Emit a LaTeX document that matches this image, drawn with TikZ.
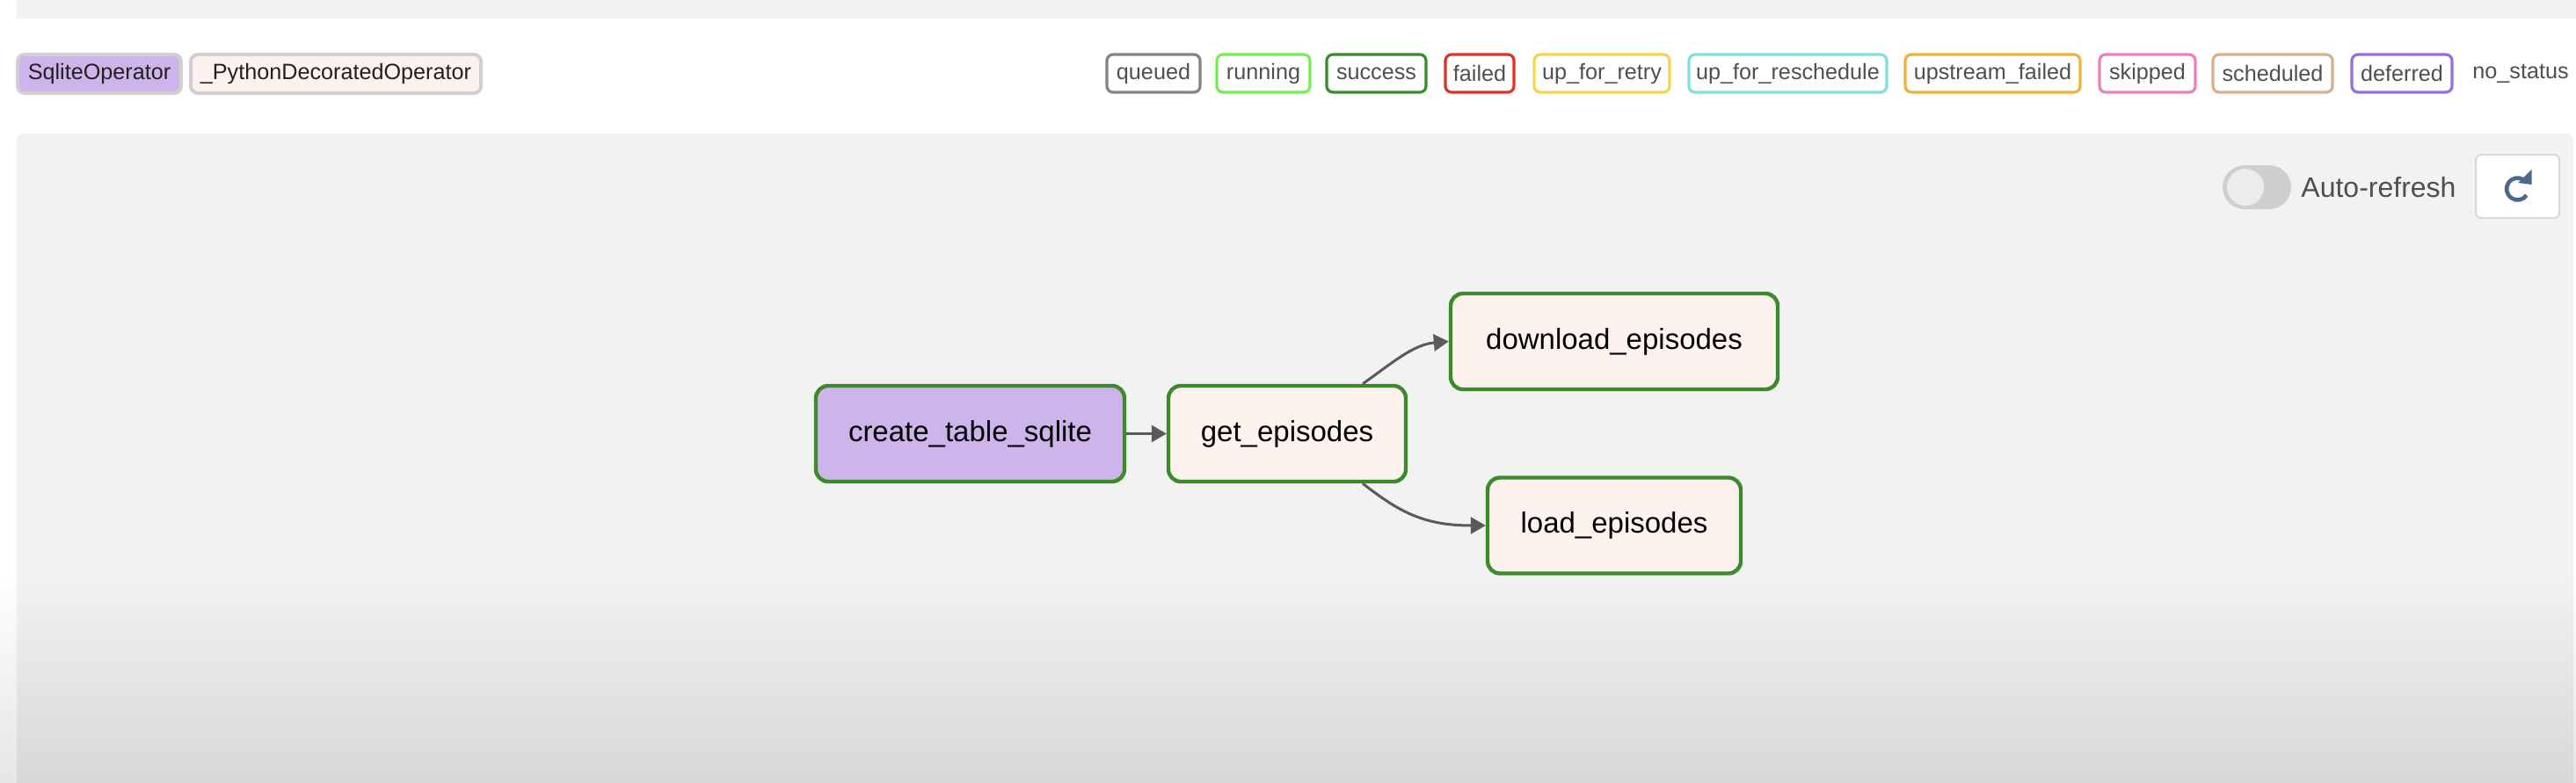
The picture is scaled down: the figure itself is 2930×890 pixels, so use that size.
\documentclass[tikz,border=0pt]{standalone}
\usepackage{fontspec}
\setmainfont{Liberation Sans}
\usetikzlibrary{arrows.meta}
\definecolor{panelbg}{HTML}{F2F2F2}
\definecolor{panelbot}{HTML}{D8D8D8}
\definecolor{stripbot}{HTML}{E6E6E6}
\definecolor{chipgray}{HTML}{D0D0D0}
\definecolor{sqlitefill}{HTML}{CDB4EA}
\definecolor{pyfill}{HTML}{FDF2EE}
\definecolor{okgreen}{HTML}{3B8A2C}
\definecolor{edgegray}{HTML}{5A5A5A}
\definecolor{txtgray}{HTML}{4F4F4F}
\definecolor{cqueued}{HTML}{858585}
\definecolor{crunning}{HTML}{74EE50}
\definecolor{csuccess}{HTML}{3B8A2C}
\definecolor{cfailed}{HTML}{E0302A}
\definecolor{cretry}{HTML}{F5D64A}
\definecolor{cresched}{HTML}{80E0D5}
\definecolor{cupfail}{HTML}{F0B03C}
\definecolor{cskipped}{HTML}{EA80BD}
\definecolor{csched}{HTML}{D2B48C}
\definecolor{cdeferred}{HTML}{9370DB}
\definecolor{togglebg}{HTML}{CFCFCF}
\definecolor{toggleknob}{HTML}{ECECEC}
\definecolor{btnborder}{HTML}{D9D9D9}
\definecolor{iconblue}{HTML}{4B6A8B}
\begin{document}
\begin{tikzpicture}[x=0.5pt,y=-0.5pt,
  legendchip/.style={draw=chipgray, line width=2pt, rounded corners=4pt,
    minimum height=22pt, inner sep=0pt, text=black!87,
    font=\fontsize{12.6}{15}\selectfont},
  statechip/.style={draw=#1, fill=white, line width=1.6pt, rounded corners=3.5pt,
    minimum height=21.5pt, inner sep=0pt, text=txtgray,
    font=\fontsize{12.6}{15}\selectfont},
  taskbox/.style={draw=okgreen, line width=2.2pt, rounded corners=7pt,
    minimum height=54.5pt, inner sep=0pt, text=black,
    font=\fontsize{16.5}{20}\selectfont},
  dagedge/.style={draw=edgegray, line width=1.5pt,
    -{Triangle[length=8.5pt,width=9.5pt]}}
]
\useasboundingbox (0,0) rectangle (2930,890);
% backgrounds
\fill[white] (0,0) rectangle (2930,890);
\fill[panelbg] (19,0) rectangle (2930,21);
\fill[panelbg, rounded corners=4pt] (19,152) rectangle (2927,900);
\shade[top color=white, bottom color=stripbot] (0,650) rectangle (19,890);
\shade[top color=white, bottom color=stripbot] (2927,650) rectangle (2930,890);
\shade[top color=panelbg, bottom color=panelbot] (19,650) rectangle (2927,890);

% operator legend
\node[legendchip, fill=sqlitefill, minimum width=93pt] (lsqlite) at (113,84) {SqliteOperator};
\node[legendchip, fill=pyfill, minimum width=165pt] (lpython) at (382,84) {\_PythonDecoratedOperator};

% state legend
\node[statechip=cqueued, minimum width=53pt] (squeued) at (1312,83.5) {queued};
\node[statechip=crunning, minimum width=53pt] (srunning) at (1437,83.5) {running};
\node[statechip=csuccess, minimum width=56.5pt] (ssuccess) at (1565.5,83.5) {success};
\node[statechip=cfailed, minimum width=39pt] (sfailed) at (1683,83.5) {failed};
\node[statechip=cretry, minimum width=77pt] (sretry) at (1822,83.5) {up\_for\_retry};
\node[statechip=cresched, minimum width=112.5pt] (sresched) at (2033.5,83.5) {up\_for\_reschedule};
\node[statechip=cupfail, minimum width=99.5pt] (supfail) at (2266.5,83.5) {upstream\_failed};
\node[statechip=cskipped, minimum width=54.5pt] (sskipped) at (2442.5,83.5) {skipped};
\node[statechip=csched, minimum width=68pt] (ssched) at (2585,83.5) {scheduled};
\node[statechip=cdeferred, minimum width=57pt] (sdeferred) at (2732,83.5) {deferred};
\node[text=txtgray, inner sep=0pt, font=\fontsize{12.6}{15}\selectfont] (snostatus) at (2867,83.5) {no\_status};

% auto-refresh toggle
\fill[togglebg, rounded corners=12.5pt] (2528,188) rectangle (2606,238);
\fill[toggleknob] (2554,213) circle[radius=10.5pt];
\node[anchor=west, text=txtgray, inner sep=0pt, font=\fontsize{16}{19}\selectfont] (autorefresh) at (2617,213) {Auto-refresh};
\node[draw=btnborder, fill=white, line width=1pt, rounded corners=3pt,
      minimum width=47.5pt, minimum height=36pt, inner sep=0pt] (refreshbtn) at (2863.5,212) {};
\begin{scope}[shift={(refreshbtn.center)}, x=0.5pt, y=0.5pt]
  \draw[iconblue, line width=2.3pt] (0,-3) ++(-35:12.5) arc[start angle=-35, end angle=-302, radius=12.5];
  \fill[iconblue] (16,19) -- (16,2) -- (0.5,4) -- cycle;
\end{scope}

% tasks
\node[taskbox, fill=sqlitefill, minimum width=175.5pt] (create) at (1103.5,493.5) {create\_table\_sqlite};
\node[taskbox, fill=pyfill, minimum width=135pt] (get) at (1464,493.5) {get\_episodes};
\node[taskbox, fill=pyfill, minimum width=186pt] (download) at (1836,388.5) {download\_episodes};
\node[taskbox, fill=pyfill, minimum width=144pt] (load) at (1836,598) {load\_episodes};

% edges
\draw[dagedge] (create.east) -- (get.west);
\draw[dagedge] ([xshift=43pt]get.north) .. controls +(35,-25) and +(-40,3.5) .. (download.west);
\draw[dagedge] ([xshift=43pt]get.south) .. controls +(40,31) and +(-72,0) .. (load.west);
\end{tikzpicture}
\end{document}
